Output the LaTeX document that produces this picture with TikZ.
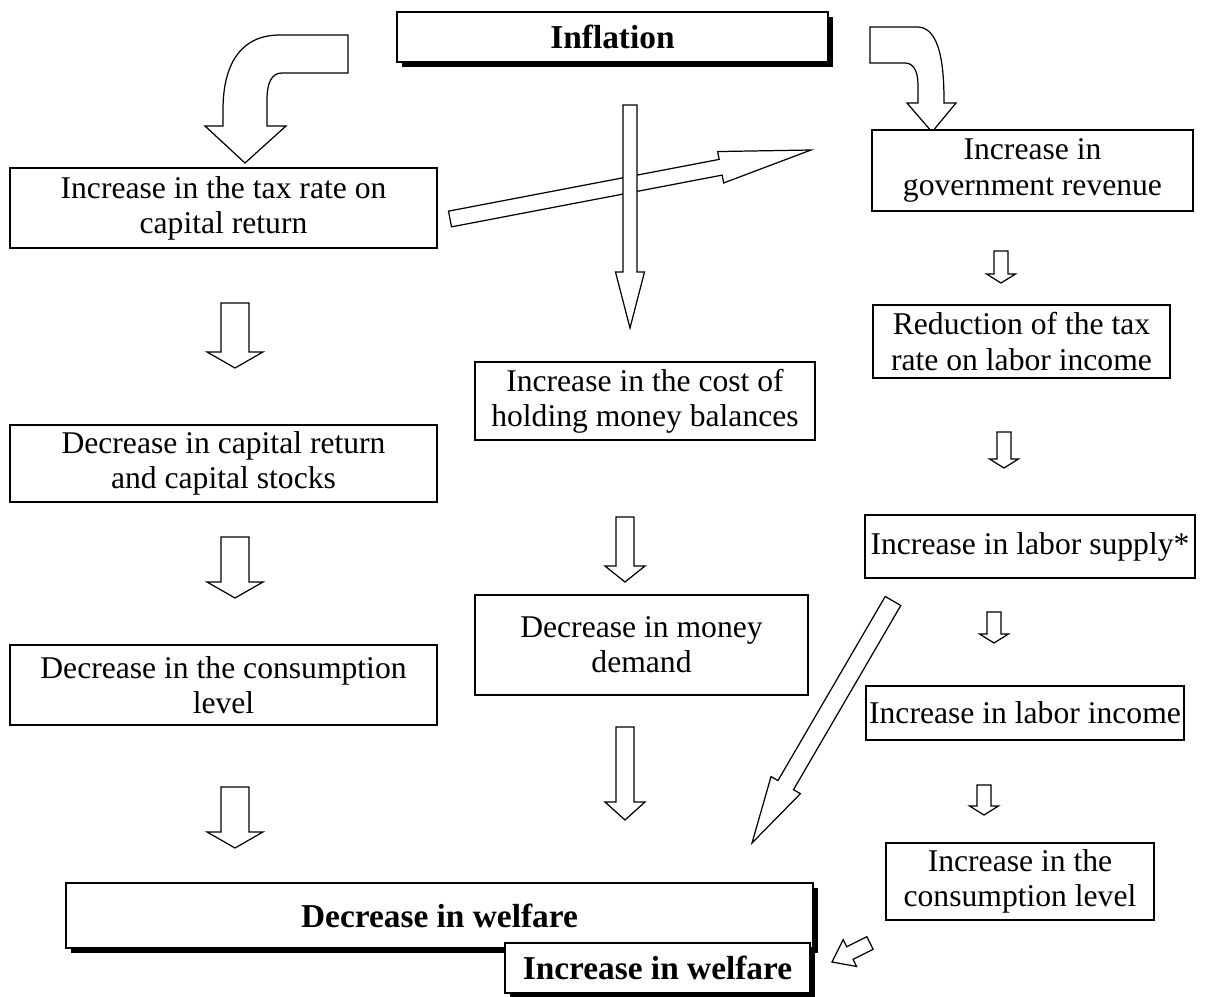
\documentclass[tikz,border=0pt]{standalone}
\usepackage{fontspec}
\setmainfont{Liberation Serif}
\usetikzlibrary{calc,shadows}

% hollow block arrow: tail, tip, half shaft, half head, head length
\newcommand{\fatarrow}[5]{%
  \coordinate (hb) at ($(#2)!#5!(#1)$);
  \draw[fat] ($(#1)!#3!90:(#2)$) -- ($(hb)!#3!90:(#2)$) -- ($(hb)!#4!90:(#2)$) -- (#2)
    -- ($(hb)!#4!-90:(#2)$) -- ($(hb)!#3!-90:(#2)$) -- ($(#1)!#3!-90:(#2)$) -- cycle;
}

\begin{document}
\begin{tikzpicture}[
    x=0.02cm, y=-0.02cm,
    box/.style={rectangle, draw, line width=0.8pt, fill=white, align=center, inner sep=0pt, font=\fontsize{18}{20}\selectfont},
    mainbox/.style={box, line width=1.6pt, font=\fontsize{19}{21}\selectfont\bfseries,
        drop shadow={shadow xshift=0.1cm, shadow yshift=-0.1cm, opacity=1, fill=black}},
    fat/.style={draw, line width=0.7pt, fill=white, line join=miter}
]
    \useasboundingbox (0,0) rectangle (1215,997);

    % Top
    \node[mainbox, minimum width=8.62cm, minimum height=1.0cm] (infl) at (612.5,37) {Inflation};

    % Curved arrows
    \draw[fat] (348,35) -- (280,35) .. controls (240,35) and (223,65) .. (223,110) -- (223,126)
        -- (205,126) -- (245,163) -- (286,126) -- (267,126) -- (267,100)
        .. controls (267,82) and (272,73) .. (282,73) -- (348,73) -- cycle;
    \draw[fat] (870,27) -- (917,27) .. controls (935,27) and (944,50) .. (944,100) -- (944,103)
        -- (956,103) -- (932,132) -- (907,103) -- (918,103) -- (918,85)
        .. controls (918,72) and (914,63) .. (905,63) -- (870,63) -- cycle;

    % Left column
    \node[box, minimum width=8.54cm, minimum height=1.6cm] (taxcap) at (223.5,208) {Increase in the tax rate on\\capital return};
    \node[box, minimum width=8.54cm, minimum height=1.54cm] (deccap) at (223.5,463.5) {Decrease in capital return\\and capital stocks};
    \node[box, minimum width=8.54cm, minimum height=1.6cm] (deccons) at (223.5,685) {Decrease in the consumption\\level};
    \fatarrow{235,303}{235,368}{0.28cm}{0.56cm}{0.32cm}
    \fatarrow{235,537}{235,598}{0.28cm}{0.56cm}{0.32cm}
    \fatarrow{235,787}{235,848}{0.28cm}{0.56cm}{0.32cm}

    % Middle column
    \fatarrow{450,219}{811,150}{0.16cm}{0.32cm}{1.84cm}
    \fatarrow{630,105}{630,328}{0.14cm}{0.29cm}{1.12cm}
    \node[box, minimum width=6.8cm, minimum height=1.56cm] (costmon) at (645,401) {Increase in the cost of\\holding money balances};
    \node[box, minimum width=6.66cm, minimum height=2.0cm] (decmon) at (641.5,645) {Decrease in money\\demand};
    \fatarrow{625,517}{625,582}{0.18cm}{0.4cm}{0.32cm}
    \fatarrow{625,727}{625,820}{0.18cm}{0.4cm}{0.36cm}

    % Right column
    \node[box, minimum width=6.42cm, minimum height=1.62cm] (govrev) at (1032.5,170.5) {Increase in\\government revenue};
    \node[box, minimum width=5.94cm, minimum height=1.46cm] (reduct) at (1021.5,341.5) {Reduction of the tax\\rate on labor income};
    \node[box, minimum width=6.6cm, minimum height=1.26cm] (labsup) at (1030,546.5) {Increase in labor supply*};
    \node[box, minimum width=6.36cm, minimum height=1.08cm] (labinc) at (1025,713) {Increase in labor income};
    \node[box, minimum width=5.36cm, minimum height=1.54cm] (inccons) at (1020,881.5) {Increase in the\\consumption level};
    \fatarrow{1001,251}{1001,283}{0.14cm}{0.29cm}{0.18cm}
    \fatarrow{1004,432}{1004,468}{0.14cm}{0.29cm}{0.18cm}
    \fatarrow{994,612}{994,643}{0.14cm}{0.29cm}{0.18cm}
    \fatarrow{984,785}{984,815}{0.14cm}{0.29cm}{0.18cm}
    \fatarrow{893,601}{752,843}{0.18cm}{0.34cm}{1.34cm}
    \fatarrow{870,943}{832,962}{0.14cm}{0.3cm}{0.4cm}

    % Bottom
    \node[mainbox, minimum width=14.94cm, minimum height=1.3cm] (decwel) at (439.5,915.5) {Decrease in welfare};
    \node[mainbox, minimum width=6.1cm, minimum height=1.0cm] (incwel) at (657.5,968) {Increase in welfare};
\end{tikzpicture}
\end{document}
